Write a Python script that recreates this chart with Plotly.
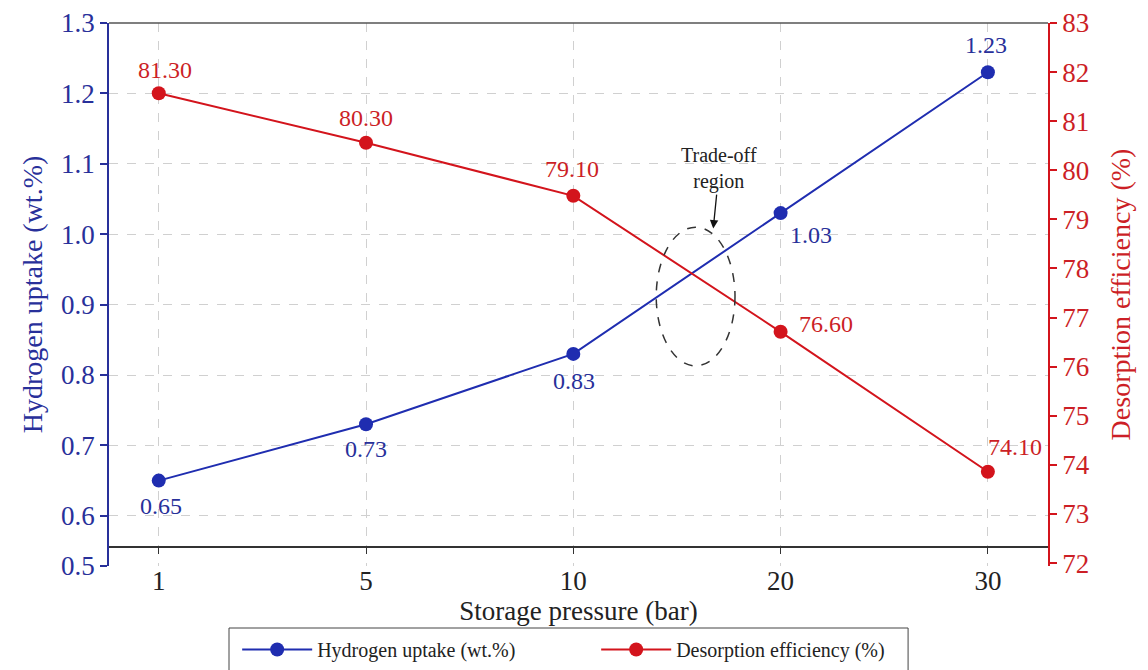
import plotly.graph_objects as go

# ---- data ----
pressure = ["1", "5", "10", "20", "30"]
uptake = [0.65, 0.73, 0.83, 1.03, 1.23]
uptake_labels = ["0.65", "0.73", "0.83", "1.03", "1.23"]
desorption = [81.57, 80.56, 79.48, 76.71, 73.86]
desorption_labels = ["81.30", "80.30", "79.10", "76.60", "74.10"]  # annotated values
left_tick_labels = ["0.5", "0.6", "0.7", "0.8", "0.9", "1.0", "1.1", "1.2", "1.3"]
left_tick_values = [0.5, 0.6, 0.7, 0.8, 0.9, 1.0, 1.1, 1.2, 1.3]
right_ticks = [72, 73, 74, 75, 76, 77, 78, 79, 80, 81, 82, 83]

# label offsets (pixels) relative to each marker
uptake_label_shift = [(2, -25), (0, -25), (1, -27), (30, -22), (-2, 27)]
desorption_label_shift = [(6, 23), (0, 25), (-1, 27), (45, 8), (27, 25)]

BLUE = "#1f2db0"
BLUE_TXT = "#28309a"
RED = "#d3141c"
RED_TXT = "#cc1f26"
FONT = "Liberation Serif"

left_range = [0.5287, 1.3]
right_range = [71.94, 83]
lt_vals = [left_range[0]] + left_tick_values[1:]

fig = go.Figure()
fig.add_trace(go.Scatter(
    x=pressure, y=uptake, mode="lines+markers", name="Hydrogen uptake (wt.%)",
    line=dict(color=BLUE, width=2), marker=dict(color=BLUE, size=14),
    yaxis="y", cliponaxis=False,
))
fig.add_trace(go.Scatter(
    x=pressure, y=desorption, mode="lines+markers", name="Desorption efficiency (%)",
    line=dict(color=RED, width=2), marker=dict(color=RED, size=14),
    yaxis="y2", cliponaxis=False,
))

for i, (yv, t, (dx, dy)) in enumerate(zip(uptake, uptake_labels, uptake_label_shift)):
    fig.add_annotation(x=i, y=yv, xref="x", yref="y", text=t, showarrow=False,
                       xshift=dx, yshift=dy,
                       font=dict(family=FONT, size=24, color=BLUE_TXT))
for i, (yv, t, (dx, dy)) in enumerate(zip(desorption, desorption_labels, desorption_label_shift)):
    fig.add_annotation(x=i, y=yv, xref="x", yref="y2", text=t, showarrow=False,
                       xshift=dx, yshift=dy,
                       font=dict(family=FONT, size=24, color=RED_TXT))

# trade-off ellipse
fig.add_shape(type="circle", xref="x", yref="y", x0=2.40, x1=2.78, y0=0.813, y1=1.010,
              line=dict(color="#333333", width=1.5, dash="dash"))
fig.add_annotation(x=2.675, y=1.008, xref="x", yref="y", text="Trade-off<br>region",
                   showarrow=True, ax=6, ay=-60, arrowhead=2, arrowsize=1.3, arrowwidth=1.3,
                   arrowcolor="#111111", font=dict(family=FONT, size=20, color="#222222"))

# top frame line
fig.add_shape(type="line", xref="paper", yref="paper", x0=0, x1=1, y0=1, y1=1,
              line=dict(color="#555555", width=1.5))
# legend frame
fig.add_shape(type="rect", xref="paper", yref="paper", x0=0.1278, x1=0.851, y0=-0.1142, y1=-0.25,
              line=dict(color="#444444", width=1), fillcolor="rgba(0,0,0,0)", layer="above")

# page body has an 8px default margin, so the figure is sized 8px smaller
fig.update_layout(
    width=1140, height=662,
    margin=dict(l=101, r=100, t=15, b=104, autoexpand=False),
    paper_bgcolor="white", plot_bgcolor="white",
    font=dict(family=FONT, size=24, color="#222222"),
    showlegend=True,
    legend=dict(orientation="h", x=0.1365, xanchor="left", y=-0.118, yanchor="top",
                borderwidth=0, bgcolor="rgba(0,0,0,0)",
                font=dict(family=FONT, size=20, color="#222222"),
                itemwidth=70, entrywidth=274, entrywidthmode="pixels"),
    xaxis=dict(
        type="category", range=[-0.24, 4.29], automargin=False,
        anchor="free", position=0.035,
        showline=True, linecolor="#333333", linewidth=1.5,
        ticks="outside", ticklen=6, tickcolor="#333333",
        ticklabelstandoff=4,
        showgrid=True, gridcolor="#d0d0d0", griddash="dash", gridwidth=1,
        tickfont=dict(family=FONT, size=27, color="#222222"),
        title=dict(text="Storage pressure (bar)", font=dict(family=FONT, size=27, color="#222222"),
                   standoff=0),
        zeroline=False,
    ),
    yaxis=dict(
        range=left_range, tickvals=lt_vals, ticktext=left_tick_labels, automargin=False,
        showline=True, linecolor=BLUE_TXT, linewidth=1.5,
        ticks="outside", ticklen=7, tickcolor=BLUE_TXT, tickwidth=1.5,
        showgrid=True, gridcolor="#d0d0d0", griddash="dash", gridwidth=1,
        tickfont=dict(family=FONT, size=27, color=BLUE_TXT),
        title=dict(text="Hydrogen uptake (wt.%)", font=dict(family=FONT, size=28, color=BLUE_TXT),
                   standoff=10),
        zeroline=False,
    ),
    yaxis2=dict(
        range=right_range, tickvals=right_ticks, overlaying="y", side="right", automargin=False,
        showline=True, linecolor=RED, linewidth=1.5,
        ticks="outside", ticklen=7, tickcolor=RED, tickwidth=1.5,
        showgrid=False,
        tickfont=dict(family=FONT, size=27, color=RED_TXT),
        title=dict(text="Desorption efficiency (%)", font=dict(family=FONT, size=28, color=RED_TXT),
                   standoff=22),
        zeroline=False,
    ),
)

fig.write_html("out.html")
